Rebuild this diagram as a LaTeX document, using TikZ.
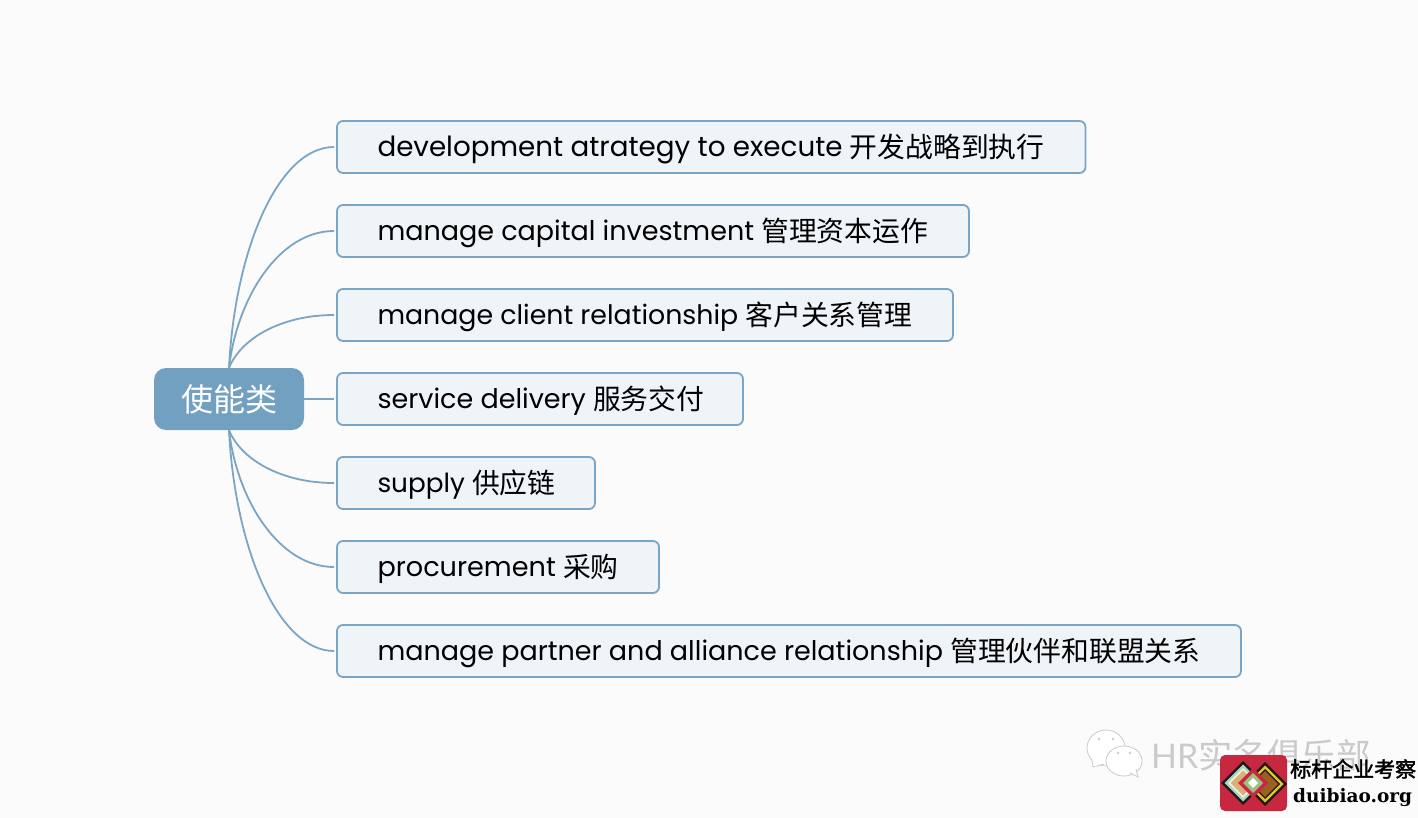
\documentclass[tikz,border=0pt]{standalone}
\usepackage{fontspec}
\setmainfont{Poppins}
\newfontfamily\cjk{Noto Sans CJK SC}
\newfontfamily\lat{Lato}
\newfontfamily\serifb{DejaVu Serif}[Scale=1,BoldFont={DejaVu Serif Bold}]
\newcommand{\zh}[1]{{\fontsize{27.8}{32}\selectfont\cjk\raisebox{-1pt}{#1}}}
\newcommand{\en}[2]{\hspace*{40.5pt}{\fontsize{#1}{32}\selectfont #2}}
\definecolor{bgc}{HTML}{FBFBFB}
\definecolor{linec}{HTML}{7AA5C5}
\definecolor{rootc}{HTML}{72A0C1}
\definecolor{boxc}{HTML}{EFF4F8}
\definecolor{wmc}{HTML}{CACACA}
\definecolor{redc}{HTML}{C8283F}
\definecolor{ringk}{HTML}{1E1A1A}
\definecolor{mint}{HTML}{A9D6C4}
\definecolor{pale}{HTML}{F4EFD8}
\definecolor{tan}{HTML}{D9B27A}
\definecolor{yel}{HTML}{E6C22C}
\definecolor{brn}{HTML}{9C5F22}
\definecolor{grn}{HTML}{9CC080}
\tikzset{
  x=1pt,y=-1pt,
  itembox/.style={draw=linec,line width=1.8pt,fill=boxc,rounded corners=6pt,anchor=north west,outer sep=0pt,
    minimum height=52pt,minimum width=#1pt,text width=#1pt,inner xsep=0pt,inner ysep=0pt,align=flush left,
    text height=24pt,text depth=5pt,font=\fontsize{27}{32}\selectfont,text=black},
  rootbox/.style={fill=rootc,rounded corners=12pt,outer sep=0pt,minimum width=150pt,minimum height=62pt,inner sep=0pt,
    text=white,font=\fontsize{32}{36}\selectfont\cjk},
  conn/.style={draw=linec,line width=1.8pt,shorten >=3pt}
}
\newcommand{\diam}[4]{\fill[#4] (#1-#3,#2) -- (#1,#2-#3) -- (#1+#3,#2) -- (#1,#2+#3) -- cycle;}
\begin{document}
\begin{tikzpicture}
\useasboundingbox (0,0) rectangle (1418,818);
\fill[bgc] (0,0) rectangle (1418,818);
\node[rootbox] (root) at (229,399) {使能类};
\node[itembox=748.5] (b1) at (337,121) {\en{27.75}{development atrategy to execute} \zh{开发战略到执行}};
\node[itembox=632] (b2) at (337,205) {\en{27}{manage capital investment} \zh{管理资本运作}};
\node[itembox=616] (b3) at (337,289) {\en{26.8}{manage client relationship} \zh{客户关系管理}};
\node[itembox=406] (b4) at (337,373) {\en{27}{service delivery} \zh{服务交付}};
\node[itembox=258] (b5) at (337,457) {\en{26.3}{supply} \zh{供应链}};
\node[itembox=322] (b6) at (337,541) {\en{27.1}{procurement} \zh{采购}};
\node[itembox=904] (b7) at (337,625) {\en{27}{manage partner and alliance relationship} \zh{管理伙伴和联盟关系}};
\draw[conn] (root.north) .. controls +(6,-120) and +(-58,0) .. (b1.west);
\draw[conn] (root.north) .. controls +(8,-70) and +(-58,0) .. (b2.west);
\draw[conn] (root.north) .. controls +(12,-30) and +(-55,0) .. (b3.west);
\draw[conn] (root.east) -- (b4.west);
\draw[conn] (root.south) .. controls +(12,30) and +(-55,0) .. (b5.west);
\draw[conn] (root.south) .. controls +(8,70) and +(-58,0) .. (b6.west);
\draw[conn] (root.south) .. controls +(6,120) and +(-58,0) .. (b7.west);
% watermark
\node[anchor=west,inner sep=0pt,text=wmc,font=\fontsize{34}{38}\selectfont\lat] (wm) at (1151,755) {HR{\fontsize{34.5}{38}\selectfont\cjk 实名俱乐部}};
\draw[wmc,fill=white,line width=.8pt] (1106,748) ellipse (19 and 18);
\draw[wmc,fill=white,line width=.8pt] (1092,760) -- (1093,767) -- (1104,764);
\draw[wmc,fill=white,line width=.8pt] (1124,761) ellipse (18 and 15);
\draw[wmc,fill=white,line width=.8pt] (1130,773) -- (1138,777) -- (1136,769);
\fill[wmc] (1099,739) circle (1.3) (1113,739) circle (1.3) (1118,753) circle (1.3) (1130,753) circle (1.3);
% logo
\fill[redc,rounded corners=5pt] (1220,755) rectangle (1287,811);
\diam{1243}{783}{22}{ringk}
\diam{1243}{783}{18.5}{mint}
\diam{1243}{783}{15}{pale}
\diam{1243}{783}{12.5}{tan}
\diam{1265}{784}{22}{ringk}
\diam{1265}{784}{18.5}{yel}
\diam{1265}{784}{15}{ringk}
\diam{1265}{784}{13}{brn}
\diam{1253}{783}{15}{redc}
\diam{1253}{783}{10}{grn}
\diam{1253}{783}{5}{white}
\node[anchor=west,inner sep=0pt,font=\fontsize{21}{24}\selectfont\cjk] (lt1) at (1290,769) {\addfontfeature{FakeBold=2}标杆企业考察};
\node[anchor=west,inner sep=0pt,font=\fontsize{18.5}{22}\selectfont\serifb\bfseries] (lt2) at (1293,798) {duibiao.org};
\end{tikzpicture}
\end{document}
